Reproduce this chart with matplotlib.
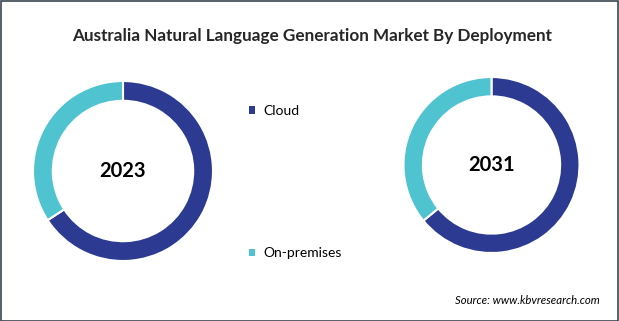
import matplotlib.pyplot as plt
from matplotlib.patches import Patch, Rectangle

# data
segments = ['Cloud', 'On-premises']
share_2023 = [65.8, 34.2]
share_2031 = [64.1, 35.9]
years = ['2023', '2031']
colors = ['#2C3A91', '#4FC3CF']

plt.rcParams['font.family'] = ['Lato', 'DejaVu Sans']

fig = plt.figure(figsize=(6.19, 3.21), dpi=100)
W, H = 619, 321


def donut(cx, cy, r, values, label):
    ax = fig.add_axes([(cx - r) / W, (H - cy - r) / H, 2 * r / W, 2 * r / H])
    ax.pie(values, colors=colors, startangle=90, counterclock=False, radius=1,
           wedgeprops=dict(width=0.22, edgecolor='white', linewidth=1.5))
    ax.set_xlim(-1, 1)
    ax.set_ylim(-1, 1)
    ax.set_aspect('equal')
    ax.axis('off')
    ax.text(0, 0.0, label, ha='center', va='center', fontsize=14.5,
            fontweight='bold', color='black')
    return ax


donut(123, 171, 90, share_2023, years[0])
donut(491.5, 165, 88, share_2031, years[1])

fig.text(312 / W, (H - 36) / H, 'Australia Natural Language Generation Market By Deployment',
         ha='center', va='center', fontsize=12.3, fontweight='bold', color='#262626')

handles = [Patch(facecolor=c, edgecolor='none') for c in colors]
fig.legend(handles, segments, loc='center left',
           bbox_to_anchor=(242 / W, (H - 182) / H), frameon=False,
           fontsize=10, handlelength=0.45, handleheight=0.45, handletextpad=0.6,
           labelspacing=9.4, borderpad=0)

fig.text(600 / W, (H - 301) / H, 'Source: www.kbvresearch.com', ha='right',
         va='center', fontsize=8.2, style='italic', color='black')

# outer frame
fig.patches.append(Rectangle((0.5 / W, 0.5 / H), 1 - 1.5 / W, 1 - 1.5 / H,
                             transform=fig.transFigure, fill=False,
                             edgecolor='#3a4550', linewidth=1.2))

fig.savefig('out.png', dpi=100)
